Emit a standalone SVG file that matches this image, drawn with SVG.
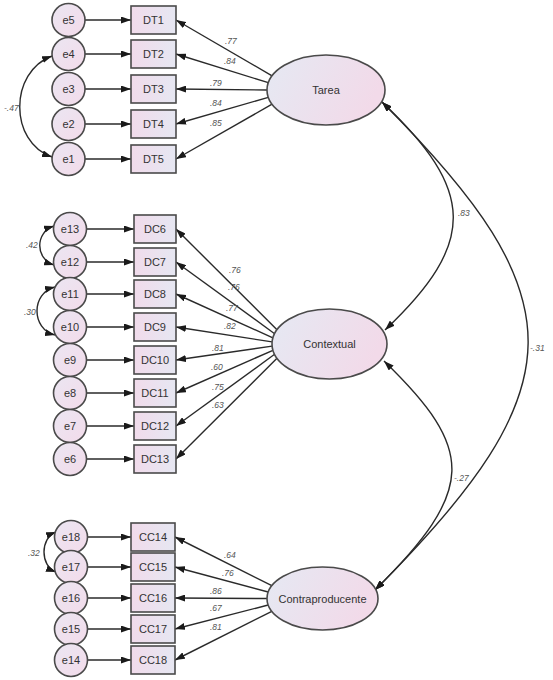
<svg xmlns="http://www.w3.org/2000/svg" width="553" height="680" viewBox="0 0 553 680">
<defs>
<linearGradient id="gc" x1="0" y1="0" x2="1" y2="1"><stop offset="0" stop-color="#ebe6f2"/><stop offset="1" stop-color="#f3dbea"/></linearGradient>
<linearGradient id="gb" x1="0" y1="0" x2="1" y2="0"><stop offset="0" stop-color="#f1dbeb"/><stop offset="1" stop-color="#e6e7f2"/></linearGradient>
<linearGradient id="ge" x1="0" y1="0" x2="1" y2="0.3"><stop offset="0" stop-color="#e5e9f3"/><stop offset="1" stop-color="#f2dae9"/></linearGradient>
<marker id="ah" viewBox="0 0 10 7" refX="10" refY="3.5" markerWidth="10" markerHeight="7" markerUnits="userSpaceOnUse" orient="auto-start-reverse"><path d="M0,0 L10,3.5 L0,7 z" fill="#1a1a1a"/></marker>
</defs>
<style>
.err circle{fill:url(#gc);stroke:#4a4a4a;stroke-width:1.6}
.obs rect{fill:url(#gb);stroke:#4a4a4a;stroke-width:1.6}
.lat ellipse{fill:url(#ge);stroke:#4a4a4a;stroke-width:1.6}
text{font-family:"Liberation Sans",Arial,sans-serif;fill:#333}
.nl{font-size:11px;text-anchor:middle;dominant-baseline:central}
.ll{font-size:11px;text-anchor:middle;dominant-baseline:central}
.cl{font-size:8.5px;fill:#555;font-style:italic}
#conn path,#conn line{stroke:#2a2a2a;stroke-width:1.4;fill:none}
.one{marker-end:url(#ah)}
.two{marker-start:url(#ah);marker-end:url(#ah)}
</style>

<g id="conn">
<line class="one" x1="85" y1="20" x2="131" y2="20"/>
<line class="one" x1="85" y1="54" x2="131" y2="54"/>
<line class="one" x1="85" y1="89" x2="131" y2="89"/>
<line class="one" x1="85" y1="124" x2="131" y2="124"/>
<line class="one" x1="85" y1="159" x2="131" y2="159"/>
<line class="one" x1="86.5" y1="229" x2="134" y2="229"/>
<line class="one" x1="86.5" y1="262" x2="134" y2="262"/>
<line class="one" x1="86.5" y1="294" x2="134" y2="294"/>
<line class="one" x1="86.5" y1="327" x2="134" y2="327"/>
<line class="one" x1="86.5" y1="360" x2="134" y2="360"/>
<line class="one" x1="86.5" y1="393" x2="134" y2="393"/>
<line class="one" x1="86.5" y1="426" x2="134" y2="426"/>
<line class="one" x1="86.5" y1="459" x2="134" y2="459"/>
<line class="one" x1="87.5" y1="537" x2="131" y2="537"/>
<line class="one" x1="87.5" y1="567" x2="131" y2="567"/>
<line class="one" x1="87.5" y1="598" x2="131" y2="598"/>
<line class="one" x1="87.5" y1="629" x2="131" y2="629"/>
<line class="one" x1="87.5" y1="660" x2="131" y2="660"/>
<line class="one" x1="272.1" y1="75.8" x2="176" y2="20"/>
<line class="one" x1="268.3" y1="82.7" x2="176" y2="54"/>
<line class="one" x1="267" y1="90" x2="176" y2="89"/>
<line class="one" x1="268.3" y1="97.3" x2="176" y2="124"/>
<line class="one" x1="272.1" y1="104.2" x2="176" y2="159"/>
<line class="one" x1="277" y1="329.8" x2="176" y2="229"/>
<line class="one" x1="274.6" y1="333.7" x2="176" y2="262"/>
<line class="one" x1="272.9" y1="337.8" x2="176" y2="294"/>
<line class="one" x1="272.1" y1="341.9" x2="176" y2="327"/>
<line class="one" x1="272.1" y1="346.1" x2="176" y2="360"/>
<line class="one" x1="272.9" y1="350.3" x2="176" y2="393"/>
<line class="one" x1="274.6" y1="354.3" x2="176" y2="426"/>
<line class="one" x1="277" y1="358.2" x2="176" y2="459"/>
<line class="one" x1="271.8" y1="585.7" x2="175" y2="537"/>
<line class="one" x1="268.2" y1="592" x2="175" y2="567"/>
<line class="one" x1="267" y1="598.5" x2="175" y2="598"/>
<line class="one" x1="268.2" y1="605" x2="175" y2="629"/>
<line class="one" x1="271.8" y1="611.3" x2="175" y2="660"/>
<path class="two" d="M52,56 C9,72 9,142 52,157"/>
<path class="two" d="M54,226 C35,232 35,259 54,265"/>
<path class="two" d="M55,287 C31,293 31,329 55,335"/>
<path class="two" d="M56,532 C40,538 40,566 56,572"/>
<path class="two" d="M382,102 C475,190 478,242 385,330"/>
<path class="two" d="M382,102 C578,298 578,387 375,590"/>
<path class="two" d="M384,361 C476,450 476,490 375,590"/>
</g>

<g id="labels">
<text class="cl" x="225" y="44">.77</text>
<text class="cl" x="224" y="64">.84</text>
<text class="cl" x="210" y="86">.79</text>
<text class="cl" x="210" y="106">.84</text>
<text class="cl" x="210" y="126">.85</text>
<text class="cl" x="229" y="273">.76</text>
<text class="cl" x="228" y="290">.76</text>
<text class="cl" x="226" y="311">.77</text>
<text class="cl" x="224" y="329">.82</text>
<text class="cl" x="212" y="351">.81</text>
<text class="cl" x="211" y="370">.60</text>
<text class="cl" x="212" y="390">.75</text>
<text class="cl" x="212" y="408">.63</text>
<text class="cl" x="224" y="558">.64</text>
<text class="cl" x="222" y="576">.76</text>
<text class="cl" x="210" y="594">.86</text>
<text class="cl" x="210" y="611">.67</text>
<text class="cl" x="210" y="630">.81</text>
<text class="cl" x="4" y="111">-.47</text>
<text class="cl" x="26" y="248">.42</text>
<text class="cl" x="24" y="315">.30</text>
<text class="cl" x="28" y="556">.32</text>
<text class="cl" x="458" y="216">.83</text>
<text class="cl" x="530" y="351">-.31</text>
<text class="cl" x="454" y="481">-.27</text>
</g>

<g id="e5" class="err"><circle cx="68.5" cy="20" r="16.5"/><text class="nl" x="68.5" y="20">e5</text></g>
<g id="e4" class="err"><circle cx="68.5" cy="54" r="16.5"/><text class="nl" x="68.5" y="54">e4</text></g>
<g id="e3" class="err"><circle cx="68.5" cy="89" r="16.5"/><text class="nl" x="68.5" y="89">e3</text></g>
<g id="e2" class="err"><circle cx="68.5" cy="124" r="16.5"/><text class="nl" x="68.5" y="124">e2</text></g>
<g id="e1" class="err"><circle cx="68.5" cy="159" r="16.5"/><text class="nl" x="68.5" y="159">e1</text></g>
<g id="e13" class="err"><circle cx="70" cy="229" r="16.5"/><text class="nl" x="70" y="229">e13</text></g>
<g id="e12" class="err"><circle cx="70" cy="262" r="16.5"/><text class="nl" x="70" y="262">e12</text></g>
<g id="e11" class="err"><circle cx="70" cy="294" r="16.5"/><text class="nl" x="70" y="294">e11</text></g>
<g id="e10" class="err"><circle cx="70" cy="327" r="16.5"/><text class="nl" x="70" y="327">e10</text></g>
<g id="e9" class="err"><circle cx="70" cy="360" r="16.5"/><text class="nl" x="70" y="360">e9</text></g>
<g id="e8" class="err"><circle cx="70" cy="393" r="16.5"/><text class="nl" x="70" y="393">e8</text></g>
<g id="e7" class="err"><circle cx="70" cy="426" r="16.5"/><text class="nl" x="70" y="426">e7</text></g>
<g id="e6" class="err"><circle cx="70" cy="459" r="16.5"/><text class="nl" x="70" y="459">e6</text></g>
<g id="e18" class="err"><circle cx="71" cy="537" r="16.5"/><text class="nl" x="71" y="537">e18</text></g>
<g id="e17" class="err"><circle cx="71" cy="567" r="16.5"/><text class="nl" x="71" y="567">e17</text></g>
<g id="e16" class="err"><circle cx="71" cy="598" r="16.5"/><text class="nl" x="71" y="598">e16</text></g>
<g id="e15" class="err"><circle cx="71" cy="629" r="16.5"/><text class="nl" x="71" y="629">e15</text></g>
<g id="e14" class="err"><circle cx="71" cy="660" r="16.5"/><text class="nl" x="71" y="660">e14</text></g>

<g id="DT1" class="obs"><rect x="131" y="6" width="45" height="28"/><text class="nl" x="153.5" y="20">DT1</text></g>
<g id="DT2" class="obs"><rect x="131" y="40" width="45" height="28"/><text class="nl" x="153.5" y="54">DT2</text></g>
<g id="DT3" class="obs"><rect x="131" y="75" width="45" height="28"/><text class="nl" x="153.5" y="89">DT3</text></g>
<g id="DT4" class="obs"><rect x="131" y="110" width="45" height="28"/><text class="nl" x="153.5" y="124">DT4</text></g>
<g id="DT5" class="obs"><rect x="131" y="145" width="45" height="28"/><text class="nl" x="153.5" y="159">DT5</text></g>
<g id="DC6" class="obs"><rect x="134" y="215" width="42" height="28"/><text class="nl" x="155" y="229">DC6</text></g>
<g id="DC7" class="obs"><rect x="134" y="248" width="42" height="28"/><text class="nl" x="155" y="262">DC7</text></g>
<g id="DC8" class="obs"><rect x="134" y="280" width="42" height="28"/><text class="nl" x="155" y="294">DC8</text></g>
<g id="DC9" class="obs"><rect x="134" y="313" width="42" height="28"/><text class="nl" x="155" y="327">DC9</text></g>
<g id="DC10" class="obs"><rect x="134" y="346" width="42" height="28"/><text class="nl" x="155" y="360">DC10</text></g>
<g id="DC11" class="obs"><rect x="134" y="379" width="42" height="28"/><text class="nl" x="155" y="393">DC11</text></g>
<g id="DC12" class="obs"><rect x="134" y="412" width="42" height="28"/><text class="nl" x="155" y="426">DC12</text></g>
<g id="DC13" class="obs"><rect x="134" y="445" width="42" height="28"/><text class="nl" x="155" y="459">DC13</text></g>
<g id="CC14" class="obs"><rect x="131" y="523" width="44" height="28"/><text class="nl" x="153" y="537">CC14</text></g>
<g id="CC15" class="obs"><rect x="131" y="553" width="44" height="28"/><text class="nl" x="153" y="567">CC15</text></g>
<g id="CC16" class="obs"><rect x="131" y="584" width="44" height="28"/><text class="nl" x="153" y="598">CC16</text></g>
<g id="CC17" class="obs"><rect x="131" y="615" width="44" height="28"/><text class="nl" x="153" y="629">CC17</text></g>
<g id="CC18" class="obs"><rect x="131" y="646" width="44" height="28"/><text class="nl" x="153" y="660">CC18</text></g>

<g id="Tarea" class="lat"><ellipse cx="326" cy="90" rx="59" ry="35"/><text class="ll" x="326" y="90">Tarea</text></g>
<g id="Contextual" class="lat"><ellipse cx="329.5" cy="344" rx="57.5" ry="35"/><text class="ll" x="329.5" y="344">Contextual</text></g>
<g id="Contraproducente" class="lat"><ellipse cx="322.5" cy="598.5" rx="55.5" ry="31.5"/><text class="ll" x="322.5" y="598.5">Contraproducente</text></g>
</svg>
